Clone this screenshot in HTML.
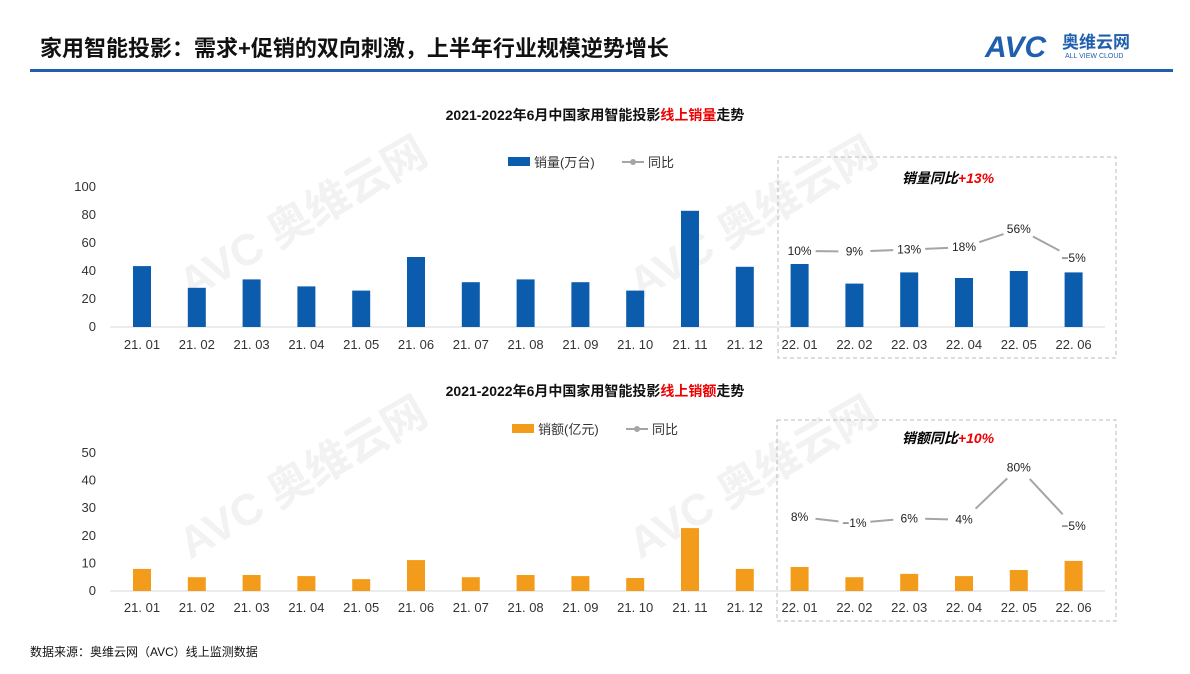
<!DOCTYPE html>
<html><head><meta charset="utf-8"><style>
body{margin:0;width:1190px;height:669px;background:#fff;overflow:hidden;font-family:"Liberation Sans","Noto Sans CJK SC",sans-serif}
</style></head><body>
<svg id="s" width="1190" height="669" xmlns="http://www.w3.org/2000/svg" font-family="Liberation Sans, Noto Sans CJK SC, sans-serif">
<text x="40" y="56" font-size="22" font-weight="bold" fill="#111">家用智能投影：需求+促销的双向刺激，上半年行业规模逆势增长</text>
<g>
<text x="985" y="57" font-size="30" font-weight="bold" font-style="italic" fill="#1f5fae">AVC</text>
<text x="1062" y="48" font-size="17" font-weight="bold" fill="#1f5fae">奥维云网</text>
<text x="1065" y="58" font-size="7" fill="#1f5fae">ALL VIEW CLOUD</text>
</g>
<rect x="30" y="69" width="1143" height="3" fill="#1f5fae"/>
<g fill="#f2f2f2" font-size="44" font-weight="bold">
<text transform="translate(190,300) rotate(-30)">AVC 奥维云网</text>
<text transform="translate(640,300) rotate(-30)">AVC 奥维云网</text>
<text transform="translate(190,560) rotate(-30)">AVC 奥维云网</text>
<text transform="translate(640,560) rotate(-30)">AVC 奥维云网</text>
</g>
<text x="595" y="120" text-anchor="middle" font-size="14" font-weight="bold" fill="#111">2021-2022年6月中国家用智能投影<tspan fill="#e00">线上销量</tspan>走势</text>
<text x="595" y="396" text-anchor="middle" font-size="14" font-weight="bold" fill="#111">2021-2022年6月中国家用智能投影<tspan fill="#e00">线上销额</tspan>走势</text>
<rect x="778" y="157" width="338" height="201" fill="none" stroke="#bbb" stroke-dasharray="4,3"/>
<rect x="777" y="420" width="339" height="201" fill="none" stroke="#bbb" stroke-dasharray="4,3"/>
<text x="948" y="183" text-anchor="middle" font-size="14" font-weight="bold" font-style="italic" fill="#000">销量同比<tspan fill="#e00">+13%</tspan></text>
<text x="948" y="443" text-anchor="middle" font-size="14" font-weight="bold" font-style="italic" fill="#000">销额同比<tspan fill="#e00">+10%</tspan></text>
<g font-size="13" fill="#333">
<rect x="508" y="157" width="22" height="9" fill="#0b5cad"/><text x="534" y="167">销量(万台)</text>
<line x1="622" y1="162" x2="644" y2="162" stroke="#a5a5a5" stroke-width="2"/><circle cx="633" cy="162" r="3" fill="#a5a5a5"/><text x="648" y="167">同比</text>
</g>
<g font-size="13" fill="#333">
<rect x="512" y="424" width="22" height="9" fill="#f39c1b"/><text x="538" y="434">销额(亿元)</text>
<line x1="626" y1="429" x2="648" y2="429" stroke="#a5a5a5" stroke-width="2"/><circle cx="637" cy="429" r="3" fill="#a5a5a5"/><text x="652" y="434">同比</text>
</g>
<g id="top"></g><g id="bot"></g>
<text x="30" y="656" font-size="12" fill="#111">数据来源：奥维云网（AVC）线上监测数据</text>
</svg>
<script>
const categories=["21.01","21.02","21.03","21.04","21.05","21.06","21.07","21.08","21.09","21.10","21.11","21.12","22.01","22.02","22.03","22.04","22.05","22.06"];
const salesVolume=[43.5,28,34,29,26,50,32,34,32,26,83,43,45,31,39,35,40,39];
const volumeYoy=[10,9,13,18,56,-5];
const volumeYoyLabels=["10%","9%","13%","18%","56%","−5%"];
const salesValue=[8,5,5.8,5.4,4.3,11.2,5,5.8,5.4,4.7,22.8,8,8.7,5,6.2,5.4,7.6,10.9];
const valueYoy=[8,-1,6,4,80,-5];
const valueYoyLabels=["8%","−1%","6%","4%","80%","−5%"];
const topTicks=[0,20,40,60,80,100];
const botTicks=[0,10,20,30,40,50];
const NS="http://www.w3.org/2000/svg";
function mk(p,t,a,txt){const e=document.createElementNS(NS,t);for(const k in a)e.setAttribute(k,a[k]);if(txt!=null)e.textContent=txt;p.appendChild(e);return e;}
const xS=i=>142+i*54.8;
function chart(g,vals,ticks,max,y0,h,color,yoy,yoyLbl,lb,ls,xlY,pre){
  const yS=v=>y0-v/max*h;
  mk(g,"line",{x1:110,x2:1105,y1:y0,y2:y0,stroke:"#d9d9d9"});
  ticks.forEach(t=>{const e=mk(g,"text",{x:96,y:yS(t)+4,"text-anchor":"end","font-size":13,fill:"#333"},t);

});
  vals.forEach((v,i)=>{const r=mk(g,"rect",{x:xS(i)-9,y:yS(v),width:18,height:y0-yS(v),fill:color});


const t=mk(g,"text",{x:xS(i),y:xlY,"text-anchor":"middle","font-size":13,fill:"#333"},categories[i].replace(".",". "));

});
  const ly=v=>lb-v*ls;
  for(let j=0;j<yoy.length-1;j++){const a=12+j,b=13+j;
    const x1=xS(a),y1=ly(yoy[j]),x2=xS(b),y2=ly(yoy[j+1]);const dx=x2-x1,dy=y2-y1,L=Math.hypot(dx,dy),g1=16/L;
    const l=mk(g,"line",{x1:x1+dx*g1,y1:y1+dy*g1,x2:x2-dx*g1,y2:y2-dy*g1,stroke:"#a5a5a5","stroke-width":2});

}
  yoy.forEach((v,j)=>{const t=mk(g,"text",{x:xS(12+j),y:ly(v)+4,"text-anchor":"middle","font-size":12,fill:"#222"},yoyLbl[j]);

});
}
chart(document.getElementById("top"),salesVolume,topTicks,100,327,140,"#0b5cad",volumeYoy,volumeYoyLabels,255.8,0.478,349,"volume");
chart(document.getElementById("bot"),salesValue,botTicks,50,591,138,"#f39c1b",valueYoy,valueYoyLabels,522.5,0.69,612,"value");
</script>
</body></html>
